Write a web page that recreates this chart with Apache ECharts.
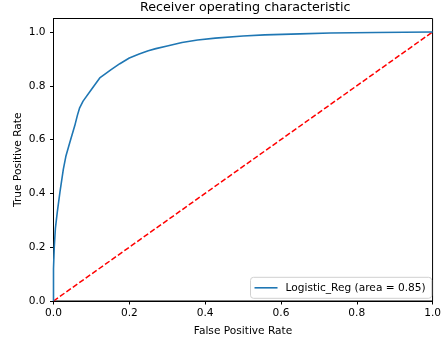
<!DOCTYPE html>
<html>
<head>
<meta charset="utf-8">
<script src="https://cdn.jsdelivr.net/npm/echarts@6/dist/echarts.min.js"></script>
<style>html,body{margin:0;padding:0;background:#fff}#c{width:444px;height:342px}</style>
</head>
<body>
<div id="c"></div>
<script>
const fpr = [0, 0, 0.002, 0.005, 0.01, 0.017, 0.026, 0.033, 0.043, 0.056, 0.063, 0.069, 0.078, 0.1, 0.122, 0.152, 0.175, 0.2, 0.226, 0.25, 0.27, 0.3, 0.339, 0.38, 0.427, 0.5, 0.557, 0.65, 0.73, 0.85, 1.0];
const tpr = [0, 0.12, 0.2, 0.27, 0.33, 0.405, 0.49, 0.54, 0.589, 0.651, 0.69, 0.718, 0.743, 0.786, 0.829, 0.86, 0.882, 0.903, 0.918, 0.93, 0.938, 0.948, 0.961, 0.97, 0.977, 0.985, 0.989, 0.993, 0.996, 0.998, 1.0];
const diagX = [0, 1];
const diagY = [0, 1];
const tickValues = [0, 0.2, 0.4, 0.6, 0.8, 1.0];
const seriesName = 'Logistic_Reg (area = 0.85)';

const font = 'DejaVu Sans';
const chart = echarts.init(document.getElementById('c'), null, {renderer: 'canvas'});
chart.setOption({
  animation: false,
  textStyle: {fontFamily: font},
  title: {
    text: 'Receiver operating characteristic',
    left: 140, top: 0, padding: [1, 0, 0, 0],
    textStyle: {fontFamily: font, fontSize: 12.7, fontWeight: 'normal', color: '#000'}
  },
  grid: {left: 53.5, right: 8, top: 18.5, bottom: 39, show: true, borderColor: '#000', borderWidth: 1, containLabel: false},
  legend: {
    right: 12.3, bottom: 43.7,
    data: [{name: seriesName, icon: 'rect'}],
    itemWidth: 23, itemHeight: 1.6,
    borderColor: '#d0d0d0', borderWidth: 1, borderRadius: 3, padding: [5, 6, 5, 4],
    backgroundColor: '#fff',
    textStyle: {fontFamily: font, fontSize: 10.6, color: '#000', padding: [0, 0, 0, 3]}
  },
  xAxis: {
    type: 'value', min: 0, max: 1, interval: 0.2,
    name: 'False Positive Rate', nameLocation: 'middle', nameGap: 25, nameMoveOverlap: false,
    nameTextStyle: {fontFamily: font, fontSize: 10.6, color: '#000'},
    axisLine: {show: true, onZero: false, lineStyle: {color: '#000', width: 1}},
    axisTick: {show: true, inside: false, length: 3.5, lineStyle: {color: '#000'}, customValues: tickValues},
    axisLabel: {fontFamily: font, fontSize: 10.6, color: '#000', margin: 6.5, customValues: tickValues, formatter: v => v.toFixed(1)},
    splitLine: {show: false}
  },
  yAxis: {
    type: 'value', min: 0, max: 1.05,
    name: 'True Positive Rate', nameLocation: 'middle', nameGap: 29.5, nameMoveOverlap: false,
    nameTextStyle: {fontFamily: font, fontSize: 10.6, color: '#000'},
    axisLine: {show: true, onZero: false, lineStyle: {color: '#000', width: 1}},
    axisTick: {show: true, inside: false, length: 3.5, lineStyle: {color: '#000'}, customValues: tickValues},
    axisLabel: {fontFamily: font, fontSize: 10.6, color: '#000', margin: 8, customValues: tickValues, formatter: v => v.toFixed(1)},
    splitLine: {show: false}
  },
  series: [
    {
      name: seriesName, type: 'line', showSymbol: false, symbol: 'none',
      data: fpr.map((x, i) => [x, tpr[i]]),
      lineStyle: {color: '#1f77b4', width: 1.6},
      itemStyle: {color: '#1f77b4'},
      z: 3
    },
    {
      name: 'diag', type: 'line', showSymbol: false, symbol: 'none',
      data: diagX.map((x, i) => [x, diagY[i]]),
      lineStyle: {color: '#ff0000', width: 1.5, type: [5.5, 2.4]},
      z: 2
    }
  ]
});
</script>
</body>
</html>
